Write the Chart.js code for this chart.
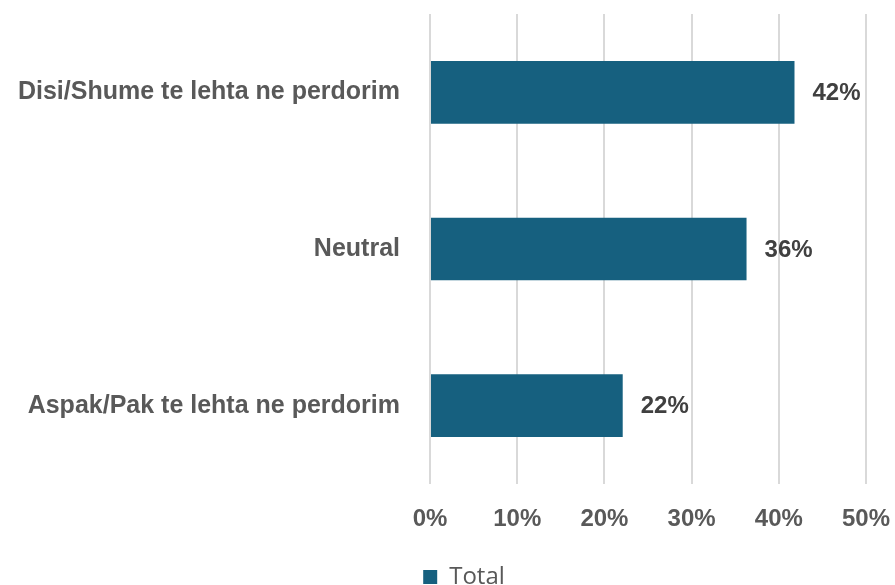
<!DOCTYPE html>
<html><head><meta charset="utf-8">
<script src="https://cdn.jsdelivr.net/npm/chart.js@4/dist/chart.umd.min.js"></script>
<style>html,body{margin:0;padding:0;background:#fff}#wrap{width:895px;height:585px}</style>
</head><body><div id="wrap"><canvas id="c" width="895" height="585"></canvas></div>
<script>
const categories = ["Disi/Shume te lehta ne perdorim", "Neutral", "Aspak/Pak te lehta ne perdorim"];
const totalValues = [41.8, 36.3, 22.1];
const valueLabels = ["42%", "36%", "22%"];
const xTicks = [0, 10, 20, 30, 40, 50];

const FONT = '"Liberation Sans", Arial, sans-serif';

const labelPlugin = {
  id: 'valLabels',
  afterDatasetsDraw(chart) {
    const ctx = chart.ctx;
    const meta = chart.getDatasetMeta(0);
    ctx.save();
    ctx.font = 'bold 24px ' + FONT;
    ctx.fillStyle = '#404040';
    ctx.textAlign = 'left';
    ctx.textBaseline = 'middle';
    meta.data.forEach((bar, i) => {
      ctx.fillText(valueLabels[i], bar.x + 18, bar.y + 1);
    });
    ctx.restore();
  }
};

new Chart(document.getElementById('c'), {
  type: 'bar',
  data: {
    labels: categories,
    datasets: [{
      label: 'Total',
      data: totalValues,
      backgroundColor: '#16607F',
      borderWidth: 0,
      barPercentage: 0.8,
      categoryPercentage: 0.5
    }]
  },
  options: {
    indexAxis: 'y',
    responsive: false,
    animation: false,
    layout: { padding: { left: 0, right: -33, top: 14, bottom: -14 } },
    scales: {
      x: {
        min: 0, max: 50,
        afterBuildTicks: s => { s.ticks = xTicks.map(v => ({ value: v })); },
        afterFit: s => { s.paddingLeft = 0; s.paddingRight = 29; s.height = 77; },
        grid: { color: '#d9d9d9', lineWidth: 2, drawTicks: false },
        border: { display: false },
        ticks: {
          padding: 21,
          color: '#595959',
          font: { family: FONT, size: 24, weight: 'bold' },
          callback: v => v + '%',
          maxRotation: 0
        }
      },
      y: {
        grid: { display: false },
        border: { display: false },
        afterFit: s => { s.width = 430; s.paddingTop = 0; s.paddingBottom = 0; },
        ticks: {
          padding: 22,
          color: '#595959',
          font: { family: FONT, size: 25, weight: 'bold' }
        }
      }
    },
    plugins: {
      legend: {
        position: 'bottom',
        labels: {
          color: '#595959',
          boxWidth: 14, boxHeight: 14,
          padding: 4,
          font: { family: '"Open Sans", sans-serif', size: 24 }
        }
      },
      tooltip: { enabled: false }
    }
  },
  plugins: [labelPlugin]
});
</script></body></html>
